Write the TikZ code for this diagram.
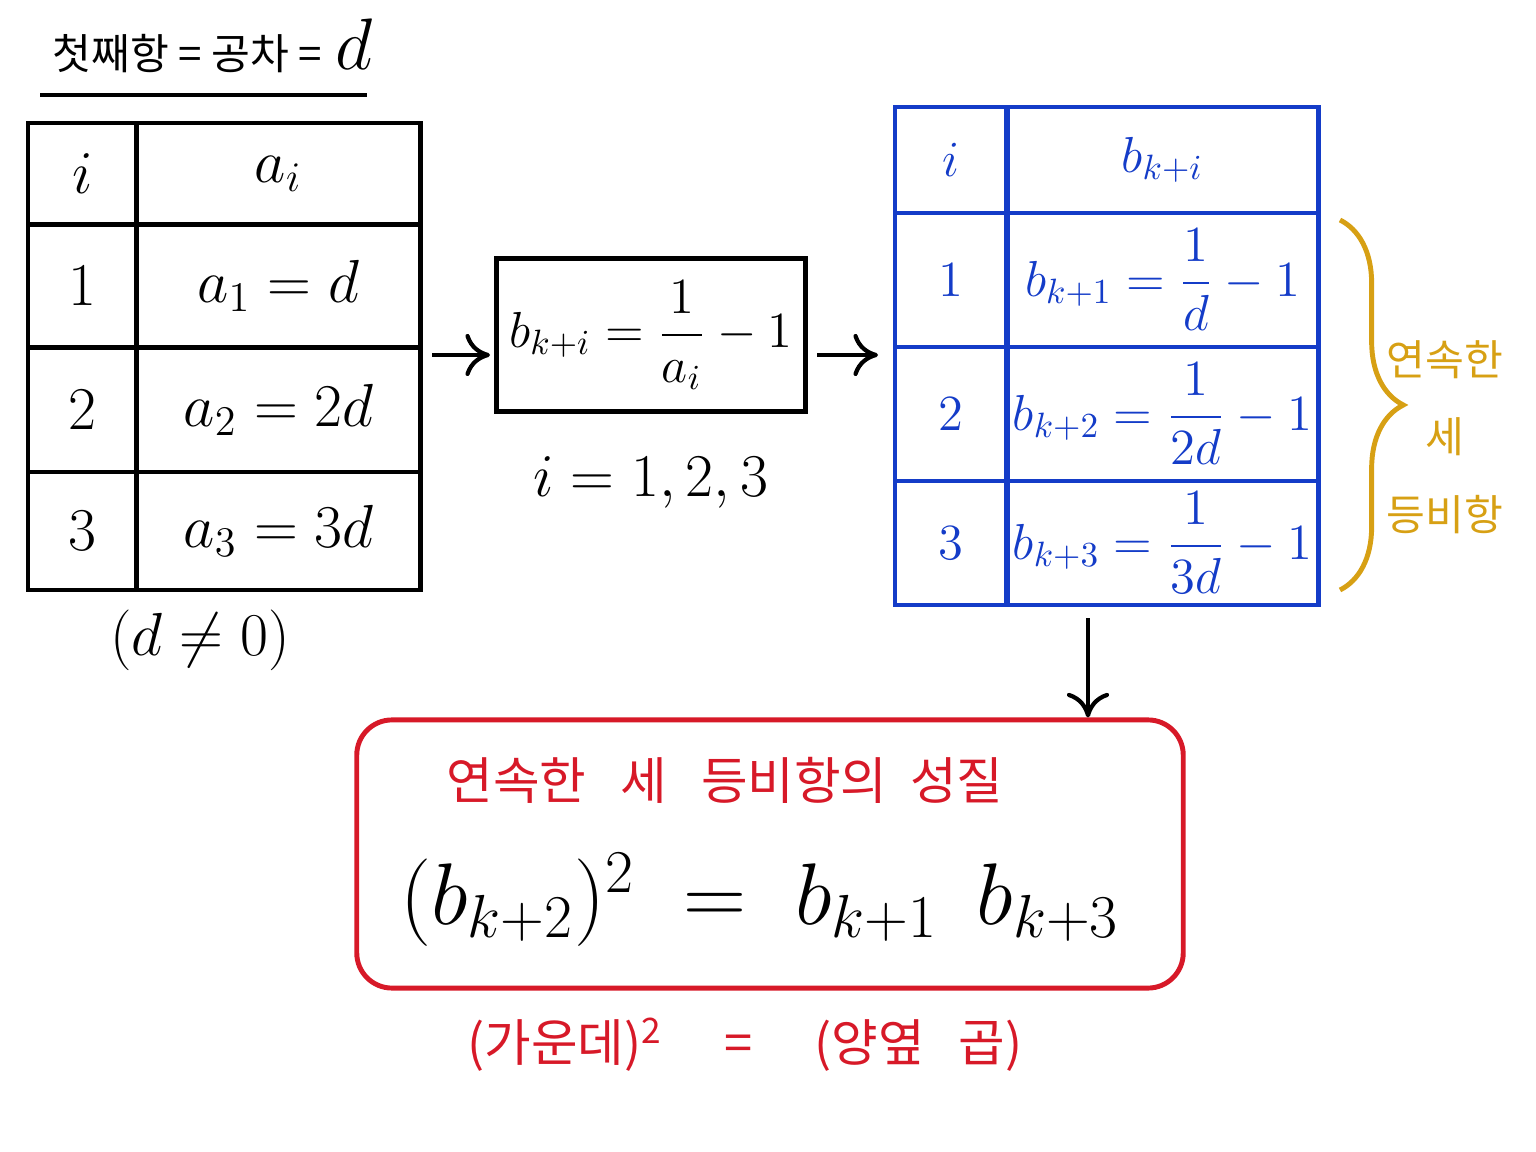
\documentclass[tikz,border=0pt]{standalone}
\usepackage{amsmath}
\usepackage{fontspec}
\newfontfamily\kor{Noto Sans CJK KR}
\usetikzlibrary{arrows.meta,positioning,decorations.pathreplacing}
\definecolor{tblue}{RGB}{20,60,200}
\definecolor{tred}{RGB}{215,25,40}
\definecolor{tgold}{RGB}{215,160,20}
\begin{document}
\begin{tikzpicture}[x=0.01cm,y=-0.01cm,
  cell/.style={draw, line width=1.4pt, inner sep=0pt, font=\LARGE},
  bcell/.style={cell, draw=tblue, text=tblue, font=\Large},
  arr/.style={-{To[length=7pt,width=12pt]}, line width=1.2pt},
  lab/.style={font=\LARGE}
]
\useasboundingbox (0,0) rectangle (1536,1152);
% title
\node[font=\large, anchor=base west] (title) at (40,70) {{\kor 첫째항 = 공차 =} {\huge$d$}};
\draw[line width=1.2pt] (40,95) -- (367,95);
% left table
\foreach \n/\y/\h/\i/\v in {0/174/102/i/a_i, 1/286/123/1/a_1=d, 2/410/124/2/a_2=2d, 3/531/118/3/a_3=3d}{
  \node[cell, minimum width=1.09cm, minimum height=\h*0.01cm] (li\n) at (82.5,\y) {$\i$};
  \node[cell, minimum width=2.83cm, minimum height=\h*0.01cm] (la\n) at (278.5,\y) {$\v$};
}
\node[lab] (dne) at (200,640) {$(d\neq 0)$};
% middle box
\node[cell, font=\Large, minimum width=3.09cm, minimum height=1.53cm] (rule) at (651,335) {$b_{k+i}=\dfrac{1}{a_i}-1$};
\node[lab, below=0.3cm of rule] (irng) {$i=1,2,3$};
% right table
\foreach \n/\y/\h/\i/\v in {0/160/106/i/b_{k+i}, 1/280/134/1/b_{k+1}=\dfrac{1}{d}-1, 2/414/134/2/b_{k+2}=\dfrac{1}{2d}-1, 3/543/124/3/b_{k+3}=\dfrac{1}{3d}-1}{
  \node[bcell, minimum width=1.12cm, minimum height=\h*0.01cm] (ri\n) at (951,\y) {$\i$};
  \node[bcell, minimum width=3.11cm, minimum height=\h*0.01cm] (rb\n) at (1162.5,\y) {$\v$};
}
\draw[tgold, line width=1.4pt, decorate, decoration={brace, amplitude=18pt}] (1340,220) -- (1340,590);
\node[text=tgold, align=center, font=\kor\large] (cons) at (1445,437) {연속한\\[8pt]세\\[8pt]등비항};
% arrows
\coordinate (a1s) at (432,355);
\coordinate (a2s) at (817,355);
\draw[arr] (a1s) -- (490,355);
\draw[arr] (a2s) -- (878,355);
% red box
\node[draw=tred, line width=1.4pt, rounded corners=10pt, minimum width=8.26cm, minimum height=2.68cm] (prop) at (770,854) {};
\coordinate (a3s) at (1088,618);
\draw[arr] (a3s) -- (prop.north -| a3s);
\node[text=tred, font=\kor\Large] (ptitle) at (725,780) {연속한 \ \ 세 \ \ 등비항의 \ 성질};
\node[font=\fontsize{26}{30}\selectfont] (form) at (760,900) {$(b_{k+2})^2 \;=\; b_{k+1}\;\, b_{k+3}$};
\node[text=tred, font=\kor\Large] (memo) at (745,1045) {(가운데)$^{\text{2}}$ \quad = \quad (양옆 \ \ 곱)};
\end{tikzpicture}
\end{document}
